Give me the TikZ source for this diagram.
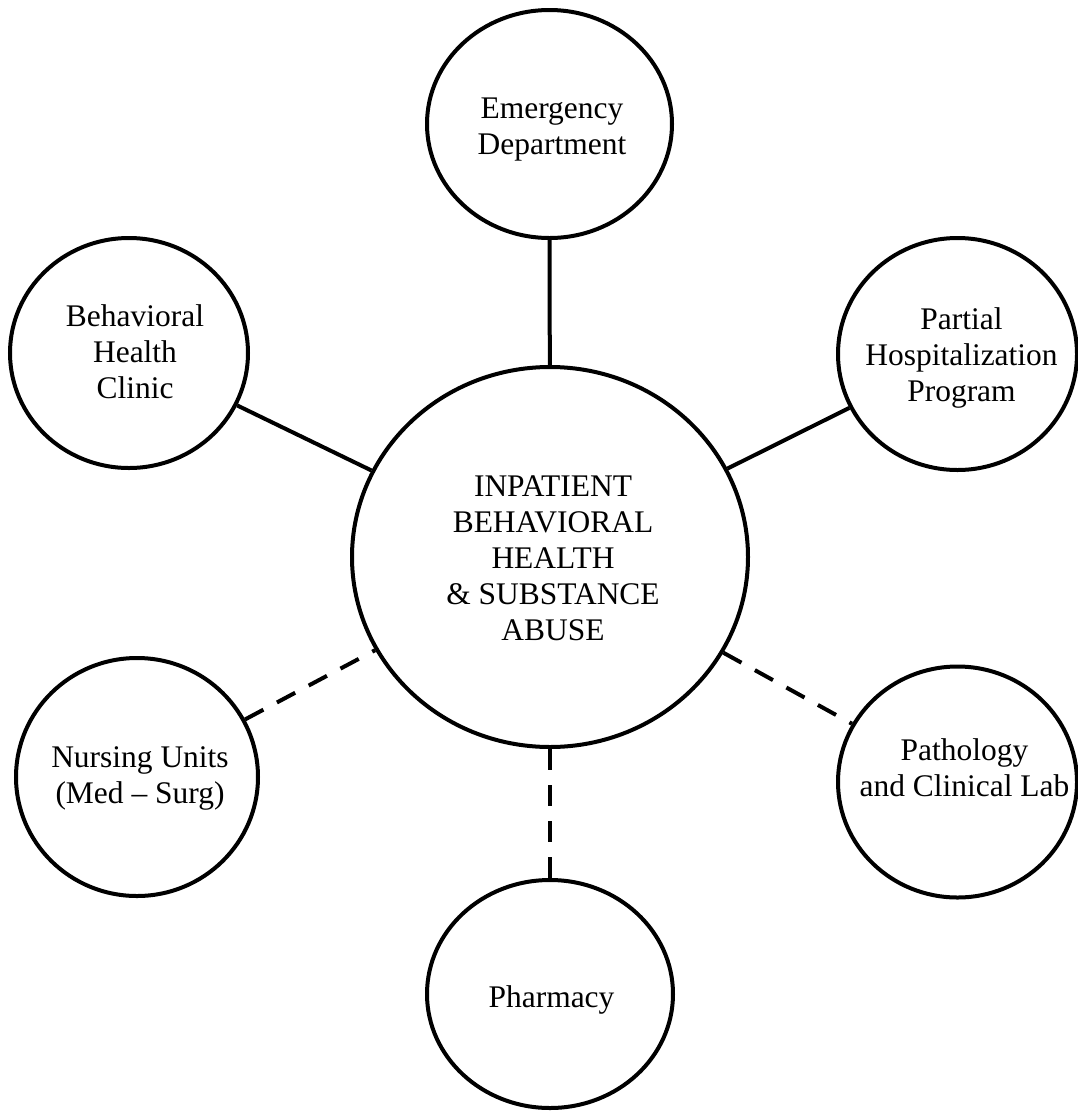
\documentclass[tikz,border=0pt]{standalone}
\usepackage{fontspec}
\setmainfont{Liberation Serif}
\usetikzlibrary{shapes.geometric}
\begin{document}
\begin{tikzpicture}[x=0.75pt,y=-0.75pt,
  bubble/.style={draw, line width=3pt, ellipse, inner sep=0pt},
  lbl/.style={align=center, font=\fontsize{23.6}{27}\selectfont, inner sep=0pt},
  link/.style={line width=3pt},
  dlink/.style={line width=3pt, dash pattern=on 15.5pt off 11.5pt}]
\useasboundingbox (0,0) rectangle (1078,1111);
% bubbles
\node[bubble, minimum width=297pt, minimum height=285pt] (c) at (550,557) {};
\node[bubble, minimum width=183.75pt, minimum height=171pt] (ed) at (549.5,124) {};
\node[bubble, minimum width=178.5pt, minimum height=172.5pt] (bhc) at (129,353) {};
\node[bubble, minimum width=179.25pt, minimum height=174pt] (php) at (957.5,354) {};
\node[bubble, minimum width=181.5pt, minimum height=178.5pt] (nu) at (137,777) {};
\node[bubble, minimum width=179.25pt, minimum height=173.25pt] (pa) at (957.5,782) {};
\node[bubble, minimum width=184.5pt, minimum height=171pt] (ph) at (550,994) {};
% labels
\node[lbl] (c-t) at (553,558.5) {INPATIENT\\BEHAVIORAL\\HEALTH\\\& SUBSTANCE\\ABUSE};
\node[lbl] (ed-t) at (552,130) {Emergency\\Department};
\node[lbl] (bhc-t) at (135,352) {Behavioral\\Health\\Clinic};
\node[lbl] (php-t) at (961.5,358) {Partial\\Hospitalization\\Program};
\node[lbl] (nu-t) at (140,778) {Nursing Units\\(Med -- Surg)};
\node[lbl] (pa-t) at (964.5,768) {Pathology\\and Clinical Lab};
\node[lbl] (ph-t) at (551.5,1000) {Pharmacy};
% connectors
\draw[link] (ed) -- (c);
\draw[link] (bhc) -- (c);
\draw[link] (php) -- (c);
\draw[dlink] (nu) -- (c);
\draw[dlink] (c) -- (pa);
\draw[dlink] (c) -- (ph);
\end{tikzpicture}
\end{document}
